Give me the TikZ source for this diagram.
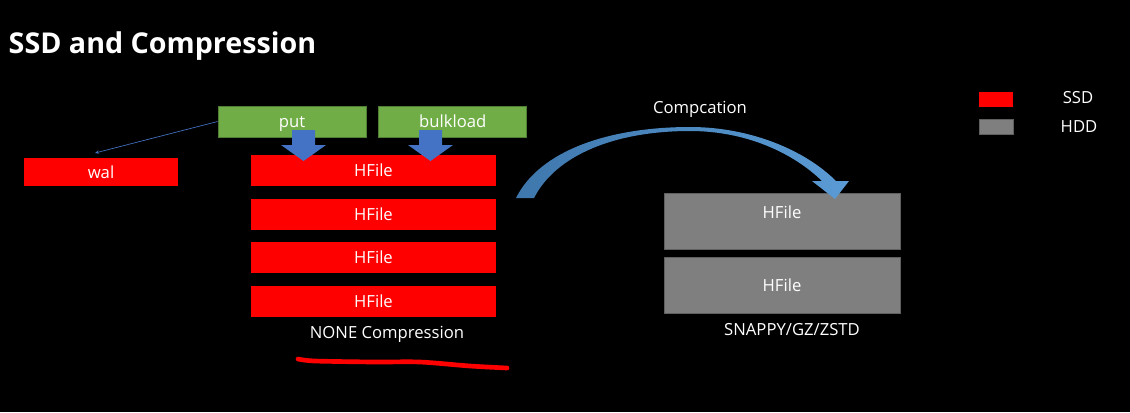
\documentclass[tikz,border=0pt]{standalone}
\usepackage{fontspec}
\setmainfont{Open Sans}
\usetikzlibrary{positioning,arrows.meta}
\definecolor{ssdred}{HTML}{FF0000}
\definecolor{loadgreen}{HTML}{70AD47}
\definecolor{loadedge}{HTML}{507E32}
\definecolor{hddgrey}{HTML}{7F7F7F}
\definecolor{hddedge}{HTML}{5F5F5F}
\definecolor{dropblue}{HTML}{4472C4}
\definecolor{arcdark}{HTML}{3E77AC}
\definecolor{arclight}{HTML}{5B9BD5}
\begin{document}
\begin{tikzpicture}[x=0.75pt,y=-0.75pt,
    every node/.style={text=white,font=\fontsize{12.5}{15}\selectfont},
    boxtext/.style={text height=10pt,text depth=1pt},
    loadbox/.style={boxtext,fill=loadgreen,draw=loadedge,line width=0.6pt,minimum width=111pt,minimum height=23.25pt,inner sep=0pt},
    ssdbox/.style={boxtext,fill=ssdred,minimum height=23.25pt,inner sep=0pt},
    hddbox/.style={boxtext,fill=hddgrey,draw=hddedge,line width=0.6pt,minimum width=177pt,minimum height=42pt,inner sep=0pt},
    keybox/.style={minimum width=25.5pt,minimum height=11pt,inner sep=0pt}]
  \fill[black] (0,0) rectangle (1130,412);
  \useasboundingbox (0,0) rectangle (1130,412);

  \node[anchor=west,font=\fontsize{21.5}{25}\selectfont\bfseries] (title) at (4,46) {SSD and Compression};

  % writes
  \node[loadbox] (put) at (292,121.5) {put};
  \node[loadbox,right=9pt of put] (bulk) {bulkload};
  \node[ssdbox,minimum width=115.5pt,minimum height=21pt] (wal) at (101,172) {wal};

  % hfiles on ssd
  \node[ssdbox,minimum width=183.75pt] (h1) at (373.5,170.5) {HFile};
  \node[ssdbox,minimum width=183.75pt,below=9pt of h1] (h2) {HFile};
  \node[ssdbox,minimum width=183.75pt,below=9pt of h2] (h3) {HFile};
  \node[ssdbox,minimum width=183.75pt,below=9pt of h3] (h4) {HFile};
  \node (none) at (387,334) {NONE Compression};

  % hfiles on hdd
  \node[hddbox] (g1) at (782,221) {};
  \node[hddbox,below=6pt of g1] (g2) {HFile};
  \node[boxtext] (g1text) at (782,212) {HFile};
  \node (snappy) at (792,330) {SNAPPY/GZ/ZSTD};

  % legend
  \node[keybox,fill=ssdred] (ssdkey) at (996,99.5) {};
  \node[keybox,fill=hddgrey,draw=hddedge] (hddkey) at (996,127) {};
  \node (ssdtext) at (1078,98) {SSD};
  \node (hddtext) at (1079,127) {HDD};

  % wal line
  \coordinate (walin) at (95,153);
  \draw[dropblue,line width=0.5pt,-{Stealth[length=3pt,width=2.5pt]}] (put.west) -- (walin);

  % drop arrows
  \foreach \cx in {303.5,430.5}
    \fill[dropblue] (\cx-11.5,130) -- (\cx+11.5,130) -- (\cx+11.5,145) -- (\cx+22.5,145)
      -- (\cx,161) -- (\cx-22.5,145) -- (\cx-11.5,145) -- cycle;

  % compaction arc
  \shade[left color=arcdark,right color=arclight]
    (516,198) .. controls (540,150) and (610,127) .. (690,127)
    .. controls (750,127) and (805,150) .. (836,181)
    -- (849,181) -- (835,199) -- (812,181) -- (822,181)
    .. controls (792,152) and (745,131) .. (690,131)
    .. controls (615,131) and (556,155) .. (534,198) -- cycle;
  \node (compc) at (700,109) {Compcation};

  % underline
  \draw[ssdred,line width=3.5pt,line cap=round] plot[smooth] coordinates
    {(298,359) (315,361) (375,362) (420,362) (470,366) (507,368)};
\end{tikzpicture}
\end{document}
